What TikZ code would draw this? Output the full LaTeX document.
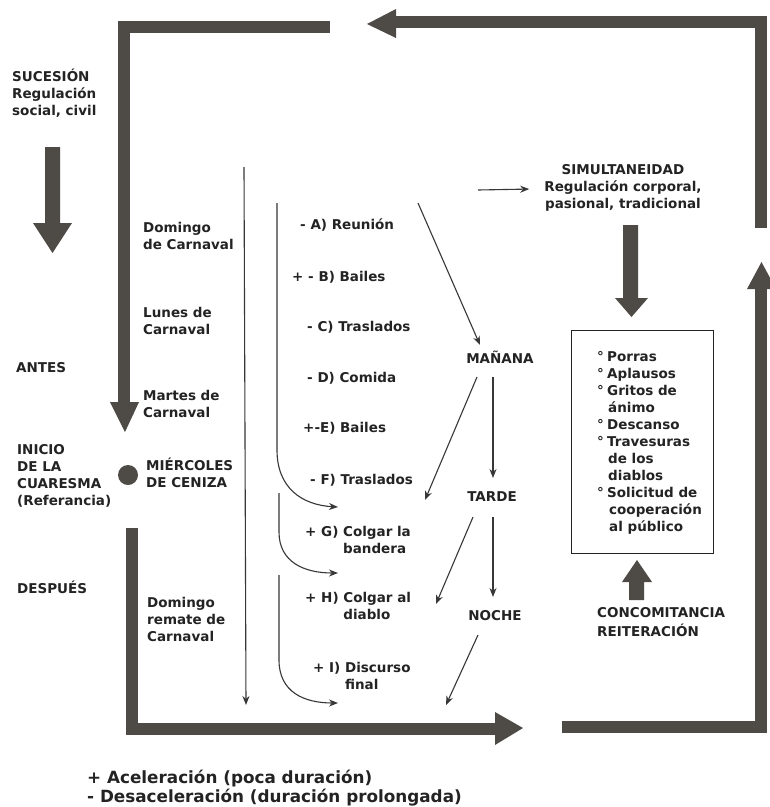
\documentclass[tikz,border=0pt]{standalone}
\usepackage{fontspec}
\setmainfont{DejaVu Sans}
\usetikzlibrary{arrows.meta,calc}
\definecolor{barc}{RGB}{78,75,70}
\definecolor{ink}{RGB}{35,35,35}
\definecolor{thinc}{RGB}{55,55,55}
\newcommand{\lblfont}{\fontsize{13.5}{17}\selectfont\bfseries}
\newcommand{\legfont}{\fontsize{16.8}{17.5}\selectfont\bfseries}
\tikzset{
  lbl/.style={font=\lblfont, text=ink, inner sep=0pt, anchor=north west, align=left},
  tod/.style={font=\lblfont, text=ink, inner sep=0pt, anchor=center, text height=10pt, text depth=0pt},
  bar/.style={draw=barc, line width=12pt, line join=miter},
  barfill/.style={fill=barc},
  thinarr/.style={draw=thinc, line width=1.1pt, -{Stealth[length=9pt,width=7pt]}},
}
\begin{document}
\begin{tikzpicture}[x=1pt,y=-1pt]
\useasboundingbox (0,0) rectangle (770,807);
\fill[white] (0,0) rectangle (770,807);

% ---- thick frame arrows ----
\draw[bar] (124,405) -- (124,27) -- (330,27);
\fill[barfill] (110,402) -- (139,402) -- (125,432) -- cycle;

\draw[bar] (761,228) -- (761,22) -- (394,22);
\fill[barfill] (396,9) -- (396,38) -- (367,24) -- cycle;

\draw[bar] (562,727) -- (761,727) -- (761,287);
\fill[barfill] (747,289) -- (776,289) -- (761.5,262) -- cycle;

\draw[bar] (132,528) -- (132,729) -- (497,729);
\fill[barfill] (495,712) -- (495,745) -- (523,728) -- cycle;

% SUCESION arrow
\fill[barfill] (45,147) -- (60,147) -- (60,223) -- (72,223) -- (52.5,253) -- (33,223) -- (45,223) -- cycle;
% middle down arrow
\fill[barfill] (623,225) -- (638,225) -- (638,298) -- (648,298) -- (631.5,317) -- (615,298) -- (623,298) -- cycle;
% up arrow
\fill[barfill] (629,600) -- (644,600) -- (644,582) -- (652,582) -- (637,560) -- (622,582) -- (629,582) -- cycle;

% dot
\fill[barfill] (128,475) circle (10);

% ---- left texts ----
\node[lbl] (suc) at (12,68.5) {\strut SUCESIÓN\\Regulación\\social, civil};
\node[lbl] (antes) at (16,360.5) {\strut ANTES};
\node[lbl] (inicio) at (17,442.5) {\strut INICIO\\DE LA\\CUARESMA\\(Referancia)};
\node[lbl] (mierc) at (146,457.5) {\strut MIÉRCOLES\\DE CENIZA};
\node[lbl] (despues) at (17,580.5) {\strut DESPUÉS};

\node[lbl] (dom1) at (143,220.5) {\strut Domingo\\de Carnaval};
\node[lbl] (lun) at (143,305.5) {\strut Lunes de\\Carnaval};
\node[lbl] (mar) at (143,388.5) {\strut Martes de\\Carnaval};
\node[lbl] (dom2) at (147,595.5) {\strut Domingo\\remate de\\Carnaval};

% ---- activities ----
\node[lbl] (actA) at (300,217.5) {\strut - A) Reunión};
\node[lbl] (actB) at (292,269.5) {\strut + - B) Bailes};
\node[lbl] (actC) at (307,319.5) {\strut - C) Traslados};
\node[lbl] (actD) at (307,370.5) {\strut - D) Comida};
\node[lbl] (actE) at (303,420.5) {\strut +-E) Bailes};
\node[lbl] (actF) at (310,472.5) {\strut - F) Traslados};
\node[lbl] (actG) at (305,524.5) {\strut + G) Colgar la\\\phantom{+ G) }bandera};
\node[lbl] (actH) at (305,590.5) {\strut + H) Colgar al\\\phantom{+ H) }diablo};
\node[lbl] (actI) at (313,660.5) {\strut + I) Discurso\\\phantom{+ I) }final};

% ---- time of day ----
\node[tod] (man) at (500,358) {MAÑANA};
\node[tod] (tarde) at (492,496) {TARDE};
\node[tod] (noche) at (495,615) {NOCHE};

% ---- simultaneidad ----
\node[lbl, anchor=north, align=center] (sim) at (623,162.5) {\strut SIMULTANEIDAD\\Regulación corporal,\\pasional, tradicional};

% ---- box ----
\node[draw=ink, line width=1.2pt, inner sep=0pt, minimum width=142pt, minimum height=223pt, anchor=north west] (box) at (571,330) {};
\node[lbl] (list) at (597,349.5) {\strut\makebox[10pt][l]{°}Porras\\
\makebox[10pt][l]{°}Aplausos\\
\makebox[10pt][l]{°}Gritos de\\
\hspace*{11pt}ánimo\\
\makebox[10pt][l]{°}Descanso\\
\makebox[10pt][l]{°}Travesuras\\
\hspace*{11pt}de los\\
\hspace*{11pt}diablos\\
\makebox[10pt][l]{°}Solicitud de\\
\hspace*{12pt}cooperación\\
\hspace*{12pt}al público};

\node[lbl] (conc) at (597,605.5) {\strut CONCOMITANCIA\\REITERACIÓN};

% ---- legend ----
\node[lbl, font=\legfont] (legend) at (87,769.5) {\strut + Aceleración (poca duración)\\- Desaceleración (duración prolongada)};

% ---- thin connectors ----
\coordinate (v1top) at (244,167);
\coordinate (v1bot) at (246,705);
\draw[thinarr] (v1top) -- (v1bot);

\coordinate (c1s) at (277,203);
\coordinate (c1e) at (338,507);
\draw[thinarr] (c1s) -- (277,450) .. controls (277,488) and (302,505) .. (c1e);
\coordinate (c2s) at (279,493);
\coordinate (c2e) at (338,573);
\draw[thinarr] (c2s) -- (279,532) .. controls (279,562) and (304,573) .. (c2e);
\coordinate (c3s) at (279,575);
\coordinate (c3e) at (338,703);
\draw[thinarr] (c3s) -- (279,660) .. controls (279,692) and (304,703) .. (c3e);

\coordinate (simS) at (478,190);
\draw[thinarr] (simS) -- ($(sim.west)+(-15,2)$);

\coordinate (aTop) at (418,203);
\draw[thinarr] (aTop) -- ($(man)+(-20,-13)$);
\coordinate (mEnd) at (425,500);
\draw[thinarr] ($(man)+(-23,19)$) -- (mEnd);
\draw[thinarr] ($(man)+(-7,19)$) -- ($(tarde)+(1,-18)$);
\coordinate (tEnd) at (436,604);
\draw[thinarr] ($(tarde)+(-19,21)$) -- (tEnd);
\draw[thinarr] ($(tarde)+(1,21)$) -- ($(noche)+(-2,-18)$);
\coordinate (nEnd) at (446,705);
\draw[thinarr] ($(noche)+(-17,20)$) -- (nEnd);
\end{tikzpicture}
\end{document}
